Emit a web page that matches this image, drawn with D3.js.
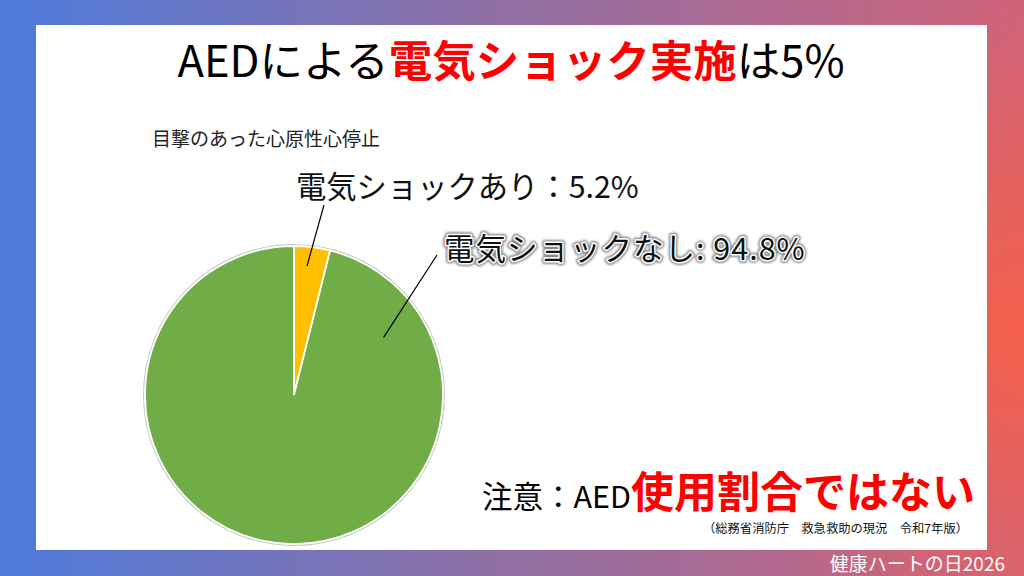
<!DOCTYPE html>
<html><head><meta charset="utf-8">
<script src="https://cdn.jsdelivr.net/npm/d3@7/dist/d3.min.js"></script>
<style>
html,body{margin:0;padding:0;width:1024px;height:576px;overflow:hidden;}
svg{display:block;font-family:"Noto Sans CJK JP","Noto Sans",sans-serif;}
</style></head>
<body>
<svg id="c" width="1024" height="576"></svg>
<script>
// ---- data ----
const categories = ["電気ショックあり", "電気ショックなし"];
const sliceValues = [3.9, 96.1];          // proportions as drawn in the pie
const labelPercents = ["5.2%", "94.8%"];  // printed label values
const labelSeparators = ["：", ": "];
const sliceColors = ["#FFC000", "#70AD47"];
const titleParts = [["AEDによる", false], ["電気ショック実施", true], ["は5%", false]];
const subtitle = "目撃のあった心原性心停止";
const noteParts = [["注意：AED", false], ["使用割合ではない", true]];
const sourceText = "（総務省消防庁　救急救助の現況　令和7年版）";
const footerText = "健康ハートの日2026";

const W = 1024, H = 576;
const svg = d3.select("#c");
const defs = svg.append("defs");

// background gradient
const lg = defs.append("linearGradient").attr("id","bg").attr("x1","0").attr("x2","1").attr("y1","0").attr("y2","0");
lg.append("stop").attr("offset","0").attr("stop-color","#4f7bdc");
lg.append("stop").attr("offset","0.45").attr("stop-color","#8a70a8");
lg.append("stop").attr("offset","1").attr("stop-color","#d0637a");
const rg = defs.append("radialGradient").attr("id","bg2").attr("gradientUnits","userSpaceOnUse")
  .attr("cx",1024).attr("cy",330).attr("r",330);
rg.append("stop").attr("offset","0").attr("stop-color","#f4604a").attr("stop-opacity",1);
rg.append("stop").attr("offset","1").attr("stop-color","#f4604a").attr("stop-opacity",0);

svg.append("rect").attr("width",W).attr("height",H).attr("fill","url(#bg)");
svg.append("rect").attr("width",W).attr("height",H).attr("fill","url(#bg2)");

// white panel
svg.append("rect").attr("x",36).attr("y",25).attr("width",951).attr("height",525).attr("fill","#fff");

// title
const title = svg.append("text").attr("x",511).attr("y",77).attr("text-anchor","middle")
  .attr("font-size",43.5);
title.selectAll("tspan").data(titleParts).join("tspan")
  .text(d=>d[0]).attr("fill",d=>d[1]?"#ff0000":"#000").attr("font-weight",d=>d[1]?700:400);

// subtitle
svg.append("text").attr("x",152).attr("y",146).attr("font-size",19).attr("fill","#222").text(subtitle);

// pie
const cx = 294, cy = 395, R = 149;
const pie = d3.pie().sort(null).value(d=>d)(sliceValues);
const arc = d3.arc().innerRadius(0).outerRadius(R);
const g = svg.append("g").attr("transform",`translate(${cx},${cy})`);
g.append("circle").attr("r",R+1.2).attr("fill","none").attr("stroke","#c8c8c8").attr("stroke-width",1.6);
g.selectAll("path.slice").data(pie).join("path").attr("class","slice")
  .attr("d",arc).attr("fill",(d,i)=>sliceColors[i]).attr("stroke","#fff").attr("stroke-width",1.8);

// leader lines
const leaderInner = [
  d3.pointRadial(pie[0].startAngle + (pie[0].endAngle-pie[0].startAngle)*0.41, R*0.87),
  d3.pointRadial(pie[1].startAngle + (pie[1].endAngle-pie[1].startAngle)*0.125, R*0.715)
];
const leaderOuter = [[324-cx, 205-cy],[437-cx, 255-cy]];
g.selectAll("line.lead").data(leaderInner).join("line").attr("class","lead")
  .attr("x1",(d,i)=>leaderOuter[i][0]).attr("y1",(d,i)=>leaderOuter[i][1])
  .attr("x2",d=>d[0]).attr("y2",d=>d[1]).attr("stroke","#000").attr("stroke-width",1.2);

// labels
const labelPos = [[296,198],[444,260]];
const lbl0 = categories[0]+labelSeparators[0]+labelPercents[0];
const lbl1 = categories[1]+labelSeparators[1]+labelPercents[1];
svg.append("text").attr("x",labelPos[0][0]).attr("y",labelPos[0][1]).attr("font-size",30.3).attr("fill","#111").text(lbl0);

const glow = defs.append("filter").attr("id","glow").attr("x","-10%").attr("y","-30%").attr("width","120%").attr("height","160%");
glow.append("feGaussianBlur").attr("stdDeviation",1.2);
svg.append("text").attr("x",labelPos[1][0]).attr("y",labelPos[1][1]).attr("font-size",30.5).attr("letter-spacing",1)
  .attr("xml:space","preserve").style("white-space","pre")
  .attr("fill","#888").attr("stroke","#888").attr("stroke-width",6).attr("stroke-linejoin","round")
  .attr("filter","url(#glow)").text(lbl1);
svg.append("text").attr("x",labelPos[1][0]).attr("y",labelPos[1][1]).attr("font-size",30.5).attr("letter-spacing",1)
  .attr("xml:space","preserve").style("white-space","pre")
  .attr("fill","#111").attr("stroke","#fff").attr("stroke-width",3).attr("stroke-linejoin","round")
  .attr("paint-order","stroke").text(lbl1);

// note
const note = svg.append("text").attr("x",975).attr("y",508).attr("text-anchor","end");
note.selectAll("tspan").data(noteParts).join("tspan").text(d=>d[0])
  .attr("font-size",d=>d[1]?43:30.5).attr("fill",d=>d[1]?"#ff0000":"#000").attr("font-weight",d=>d[1]?700:400);

svg.append("text").attr("x",968).attr("y",533).attr("text-anchor","end").attr("font-size",12.3).attr("fill","#111").text(sourceText);

svg.append("text").attr("x",1005).attr("y",571).attr("text-anchor","end").attr("font-size",19).attr("fill","#fff").text(footerText);
</script>
</body></html>
